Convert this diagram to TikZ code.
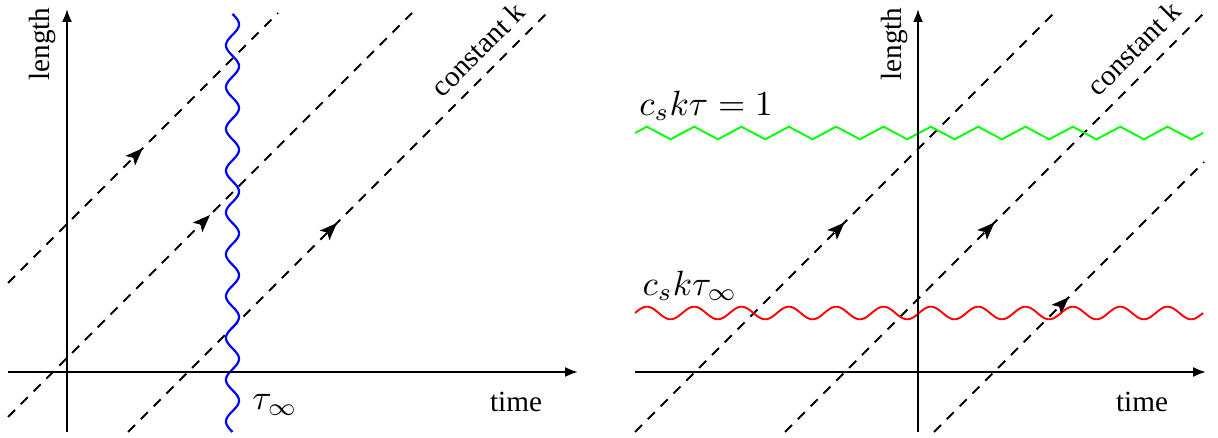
\documentclass[tikz,border=0pt]{standalone}
\usepackage{fontspec}
\setmainfont{Liberation Serif}
\usetikzlibrary{arrows.meta,decorations.markings}
\tikzset{
  axis/.style={line width=0.7pt,-{Latex[length=4.4pt,width=3.4pt]}},
  ray/.style={line width=0.65pt,dash pattern=on 3.4pt off 2.8pt,
    postaction={decorate},
    decoration={markings,mark=at position 0.5 with {\arrow{Stealth[length=6pt,width=4.6pt,inset=1.4pt]}}}},
  lbl/.style={inner sep=0pt,font=\fontsize{10}{12}\selectfont},
  mlbl/.style={inner sep=0pt,scale=1.2},
}
\begin{document}
\begin{tikzpicture}[x=0.342pt,y=-0.342pt]
\useasboundingbox (0,0) rectangle (1218,438);
% ---------- left panel ----------
\coordinate (lxa) at (8,372);   \coordinate (lxb) at (578,372);
\coordinate (lya) at (67,432);  \coordinate (lyb) at (67,9);
\coordinate (l1a) at (8,283);   \coordinate (l1b) at (278,13);
\coordinate (l2a) at (8,417);   \coordinate (l2b) at (412,13);
\coordinate (l3a) at (128,432); \coordinate (l3b) at (546,14);
\draw[ray] (l1a) -- (l1b);
\draw[ray] (l2a) -- (l2b);
\draw[ray] (l3a) -- (l3b);
\draw[blue,line width=0.75pt] plot[domain=14:432,samples=320,smooth,variable=\t] ({232.5+6.5*sin((\t-14)*8.6124)},{\t});
\draw[axis] (lxa) -- (lxb);
\draw[axis] (lya) -- (lyb);
\node[lbl,rotate=90] (llen) at (43,44) {length};
\node[lbl] (ltime) at (516,402) {time};
\node[mlbl] (ltau) at (275,405) {$\tau_\infty$};
\node[lbl,rotate=45] (lconst) at (478,49) {constant k};
% ---------- right panel ----------
\coordinate (rxa) at (635,372);  \coordinate (rxb) at (1206,372);
\coordinate (rya) at (918,432);  \coordinate (ryb) at (918,9);
\coordinate (r1a) at (635,432);  \coordinate (r1b) at (1054,13);
\coordinate (r2a) at (785,432);  \coordinate (r2b) at (1204,13);
\coordinate (r3a) at (934,432);  \coordinate (r3b) at (1204,162);
\draw[ray] (r1a) -- (r1b);
\draw[ray] (r2a) -- (r2b);
\draw[ray] (r3a) -- (r3b);
\draw[green,line width=0.65pt] (635,133)
  \foreach \n in {0,...,23} { -- ({635+11.833+23.667*\n},{133+6.3*(2*mod(\n,2)-1)}) } -- (1203,133);
\draw[red,line width=0.65pt] plot[domain=635:1203,samples=400,smooth,variable=\t] ({\t},{313-6.3*sin((\t-635)*7.6056)});
\draw[axis] (rxa) -- (rxb);
\draw[axis] (rya) -- (ryb);
\node[lbl,rotate=90] (rlen) at (894,44) {length};
\node[lbl] (rtime) at (1142,402) {time};
\node[lbl,rotate=45] (rconst) at (1134,48) {constant k};
\node[mlbl] (rone) at (706,106) {$c_s k\tau = 1$};
\node[mlbl] (rinf) at (690,286) {$c_s k\tau_\infty$};
\end{tikzpicture}
\end{document}
